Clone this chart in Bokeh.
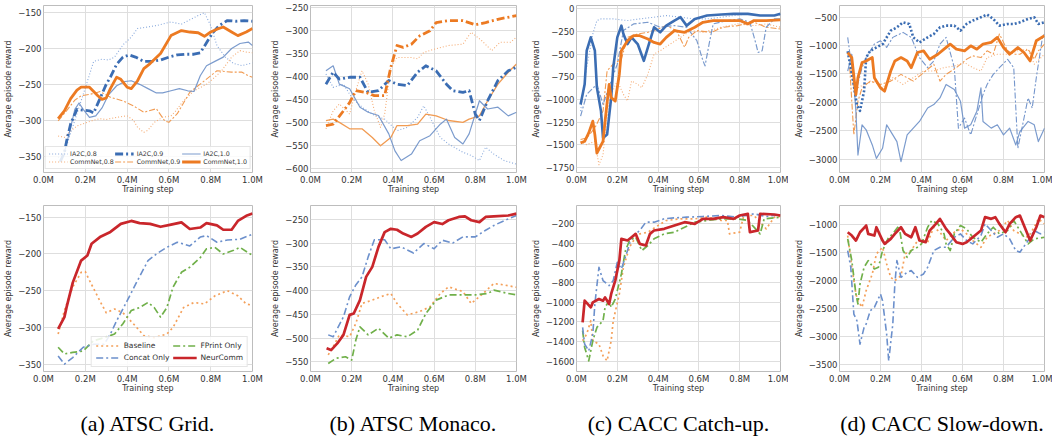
from bokeh.plotting import figure
from bokeh.models import Range1d, PrintfTickFormatter, Legend, LegendItem
from bokeh.layouts import row, column
from bokeh.embed import file_html
from bokeh.resources import INLINE
from bokeh.core.properties import value

# ---------------- data ----------------
x_ticks = [0.0, 0.2, 0.4, 0.6, 0.8, 1.0]
captions = ["(a) ATSC Grid.", "(b) ATSC Monaco.", "(c) CACC Catch-up.", "(d) CACC Slow-down."]
top_labels = ["IA2C,0.8", "IA2C,0.9", "IA2C,1.0", "CommNet,0.8", "CommNet,0.9", "CommNet,1.0"]
bottom_labels = ["Baseline", "Concat Only", "FPrint Only", "NeurComm"]

grid_top_ticks = [-350, -300, -250, -200, -150]
grid_bottom_ticks = [-350, -300, -250, -200, -150]
monaco_top_ticks = [-600, -550, -500, -450, -400, -350, -300, -250]
monaco_bottom_ticks = [-550, -500, -450, -400, -350, -300, -250]
catchup_top_ticks = [-1750, -1500, -1250, -1000, -750, -500, -250, 0]
catchup_bottom_ticks = [-1600, -1400, -1200, -1000, -800, -600, -400, -200]
slowdown_top_ticks = [-3000, -2500, -2000, -1500, -1000, -500]
slowdown_bottom_ticks = [-3500, -3000, -2500, -2000, -1500, -1000]

# (a) ATSC Grid, top row (training step in M, reward)
grid_ia2c_08 = [(0.07, -352), (0.10, -345), (0.13, -318), (0.17, -282), (0.20, -255), (0.24, -218), (0.28, -215), (0.31, -216), (0.34, -212), (0.38, -195), (0.42, -184), (0.45, -172), (0.50, -170), (0.54, -168), (0.58, -165), (0.61, -163), (0.66, -166), (0.70, -160), (0.74, -154), (0.77, -150), (0.80, -168), (0.83, -196), (0.87, -212), (0.91, -221), (0.95, -224), (1.0, -220)]
grid_ia2c_09 = [(0.08, -358), (0.10, -345), (0.11, -330), (0.13, -305), (0.16, -285), (0.19, -286), (0.22, -287), (0.24, -290), (0.27, -270), (0.30, -250), (0.32, -240), (0.35, -222), (0.38, -212), (0.41, -209), (0.44, -212), (0.48, -218), (0.52, -218), (0.56, -216), (0.60, -212), (0.64, -209), (0.68, -208), (0.72, -208), (0.75, -206), (0.78, -192), (0.81, -178), (0.84, -168), (0.88, -161), (0.92, -162), (0.96, -161), (1.0, -162)]
grid_ia2c_10 = [(0.10, -345), (0.13, -310), (0.15, -285), (0.17, -276), (0.19, -285), (0.22, -296), (0.25, -294), (0.28, -283), (0.31, -265), (0.35, -252), (0.39, -246), (0.42, -245), (0.46, -250), (0.50, -256), (0.54, -262), (0.57, -262), (0.61, -259), (0.65, -256), (0.69, -259), (0.72, -260), (0.75, -238), (0.78, -224), (0.82, -218), (0.86, -212), (0.90, -200), (0.94, -193), (0.98, -191), (1.0, -196)]
grid_commnet_08 = [(0.07, -322), (0.10, -324), (0.13, -315), (0.16, -308), (0.20, -304), (0.24, -300), (0.27, -298), (0.30, -299), (0.35, -296), (0.40, -294), (0.43, -300), (0.45, -310), (0.48, -317), (0.50, -314), (0.53, -303), (0.57, -296), (0.61, -294), (0.63, -288), (0.67, -273), (0.72, -259), (0.78, -250), (0.82, -240), (0.85, -232), (0.90, -212), (0.94, -203), (0.97, -205), (1.0, -206)]
grid_commnet_09 = [(0.07, -301), (0.11, -287), (0.15, -272), (0.18, -266), (0.22, -264), (0.25, -262), (0.27, -260), (0.32, -268), (0.38, -273), (0.43, -280), (0.48, -289), (0.54, -284), (0.58, -301), (0.60, -303), (0.64, -291), (0.70, -261), (0.77, -245), (0.83, -231), (0.90, -233), (0.95, -233), (0.98, -238), (1.0, -240)]
grid_commnet_10 = [(0.07, -298), (0.10, -287), (0.13, -270), (0.16, -258), (0.18, -254), (0.22, -254), (0.26, -266), (0.28, -271), (0.30, -269), (0.32, -256), (0.35, -240), (0.37, -243), (0.40, -254), (0.42, -256), (0.45, -245), (0.48, -228), (0.51, -221), (0.56, -207), (0.61, -182), (0.66, -175), (0.70, -177), (0.74, -178), (0.77, -183), (0.80, -177), (0.83, -173), (0.86, -170), (0.90, -177), (0.93, -182), (0.97, -177), (1.0, -172)]

# (a) ATSC Grid, bottom row
grid_baseline = [(0.07, -309), (0.10, -277), (0.14, -245), (0.18, -225), (0.20, -224), (0.22, -236), (0.27, -264), (0.30, -280), (0.34, -275), (0.38, -280), (0.43, -295), (0.48, -311), (0.53, -314), (0.59, -309), (0.62, -300), (0.67, -273), (0.72, -266), (0.77, -268), (0.82, -257), (0.88, -250), (0.93, -257), (0.97, -268), (1.0, -270)]
grid_concat = [(0.07, -339), (0.10, -350), (0.14, -341), (0.19, -327), (0.24, -323), (0.29, -323), (0.32, -309), (0.35, -291), (0.40, -264), (0.45, -236), (0.50, -209), (0.54, -200), (0.59, -191), (0.64, -184), (0.70, -189), (0.75, -177), (0.78, -175), (0.83, -184), (0.88, -181), (0.94, -180), (1.0, -173)]
grid_fprint = [(0.07, -327), (0.10, -336), (0.14, -334), (0.19, -332), (0.24, -318), (0.29, -314), (0.34, -309), (0.38, -295), (0.42, -277), (0.46, -273), (0.50, -266), (0.53, -273), (0.56, -286), (0.59, -273), (0.62, -245), (0.66, -225), (0.70, -218), (0.75, -205), (0.78, -193), (0.82, -191), (0.86, -200), (0.91, -195), (0.94, -191), (1.0, -202)]
grid_neurcomm = [(0.07, -302), (0.10, -286), (0.11, -273), (0.14, -239), (0.18, -209), (0.21, -202), (0.23, -186), (0.27, -177), (0.32, -170), (0.37, -159), (0.42, -155), (0.46, -158), (0.51, -159), (0.56, -163), (0.61, -160), (0.66, -157), (0.70, -166), (0.75, -164), (0.78, -158), (0.83, -161), (0.86, -167), (0.90, -167), (0.93, -155), (0.97, -148), (1.0, -145)]

# (b) ATSC Monaco, top row
monaco_ia2c_08 = [(0.075, -395), (0.11, -424), (0.16, -417), (0.20, -446), (0.25, -467), (0.31, -485), (0.36, -493), (0.42, -518), (0.47, -511), (0.52, -489), (0.55, -464), (0.58, -489), (0.63, -533), (0.67, -547), (0.74, -565), (0.78, -572), (0.82, -583), (0.85, -554), (0.89, -569), (0.94, -583), (1.0, -591)]
monaco_ia2c_09 = [(0.075, -417), (0.11, -391), (0.14, -406), (0.19, -402), (0.24, -402), (0.28, -435), (0.33, -431), (0.38, -409), (0.42, -417), (0.47, -420), (0.52, -391), (0.56, -377), (0.61, -388), (0.66, -417), (0.69, -431), (0.74, -435), (0.77, -431), (0.80, -482), (0.82, -496), (0.86, -453), (0.91, -409), (0.96, -388), (1.0, -380)]
monaco_ia2c_10 = [(0.075, -388), (0.11, -377), (0.14, -417), (0.19, -427), (0.24, -467), (0.28, -478), (0.33, -485), (0.38, -525), (0.41, -562), (0.44, -583), (0.49, -569), (0.53, -540), (0.58, -529), (0.63, -504), (0.66, -493), (0.70, -533), (0.74, -547), (0.77, -525), (0.82, -453), (0.86, -471), (0.91, -467), (0.96, -486), (1.0, -478)]
monaco_commnet_08 = [(0.075, -514), (0.11, -475), (0.14, -460), (0.19, -482), (0.22, -431), (0.25, -388), (0.28, -417), (0.31, -475), (0.34, -511), (0.36, -482), (0.39, -380), (0.42, -359), (0.49, -359), (0.52, -362), (0.55, -348), (0.60, -341), (0.67, -333), (0.74, -330), (0.78, -304), (0.83, -322), (0.88, -344), (0.92, -326), (0.97, -326), (1.0, -315)]
monaco_commnet_09 = [(0.075, -496), (0.11, -493), (0.14, -500), (0.19, -514), (0.25, -514), (0.30, -533), (0.34, -551), (0.39, -533), (0.42, -507), (0.47, -507), (0.52, -504), (0.56, -482), (0.61, -486), (0.67, -496), (0.74, -500), (0.77, -493), (0.82, -486), (0.86, -453), (0.91, -417), (0.96, -391), (1.0, -373)]
monaco_commnet_10 = [(0.075, -507), (0.11, -504), (0.16, -475), (0.19, -457), (0.22, -431), (0.27, -435), (0.31, -442), (0.36, -442), (0.39, -380), (0.42, -333), (0.45, -337), (0.49, -330), (0.53, -312), (0.58, -301), (0.61, -283), (0.67, -279), (0.74, -279), (0.80, -288), (0.85, -283), (0.92, -275), (1.0, -268)]

# (b) ATSC Monaco, bottom row
monaco_baseline = [(0.086, -535), (0.11, -518), (0.14, -493), (0.19, -497), (0.22, -469), (0.25, -427), (0.30, -420), (0.34, -413), (0.39, -406), (0.42, -427), (0.47, -451), (0.53, -444), (0.58, -434), (0.63, -406), (0.67, -392), (0.74, -402), (0.78, -427), (0.83, -409), (0.89, -385), (0.94, -388), (1.0, -393)]
monaco_concat = [(0.086, -493), (0.11, -497), (0.16, -455), (0.19, -413), (0.22, -388), (0.25, -371), (0.28, -329), (0.31, -293), (0.36, -293), (0.39, -312), (0.44, -308), (0.50, -321), (0.55, -301), (0.60, -312), (0.64, -294), (0.69, -300), (0.74, -287), (0.80, -287), (0.85, -273), (0.89, -263), (0.96, -249), (1.0, -242)]
monaco_fprint = [(0.086, -553), (0.125, -542), (0.17, -539), (0.20, -546), (0.22, -504), (0.24, -476), (0.28, -493), (0.33, -479), (0.38, -500), (0.42, -493), (0.47, -497), (0.52, -483), (0.56, -448), (0.61, -420), (0.67, -409), (0.74, -409), (0.80, -409), (0.86, -406), (0.89, -399), (0.96, -406), (1.0, -409)]
monaco_neurcomm = [(0.078, -521), (0.10, -525), (0.13, -511), (0.16, -493), (0.19, -451), (0.21, -448), (0.24, -420), (0.27, -371), (0.30, -350), (0.33, -308), (0.36, -277), (0.39, -270), (0.42, -272), (0.45, -280), (0.49, -287), (0.52, -280), (0.56, -266), (0.60, -256), (0.64, -260), (0.67, -252), (0.72, -245), (0.75, -244), (0.78, -252), (0.82, -256), (0.85, -245), (0.89, -244), (0.96, -242), (1.0, -238)]

# (c) CACC Catch-up, top row
catchup_ia2c_08 = [(0.02, -1128), (0.05, -647), (0.08, -277), (0.10, -129), (0.12, -111), (0.18, -111), (0.25, -129), (0.31, -111), (0.38, -92), (0.44, -74), (0.51, -92), (0.58, -111), (0.64, -111), (0.71, -92), (0.77, -74), (0.84, -55), (0.90, -74), (1.0, -74)]
catchup_ia2c_09 = [(0.02, -1054), (0.04, -832), (0.05, -462), (0.07, -314), (0.09, -462), (0.10, -869), (0.12, -1128), (0.13, -1424), (0.15, -1387), (0.17, -980), (0.18, -647), (0.20, -314), (0.22, -185), (0.23, -277), (0.25, -388), (0.27, -314), (0.30, -388), (0.33, -573), (0.35, -425), (0.38, -203), (0.41, -259), (0.44, -185), (0.48, -129), (0.51, -92), (0.54, -185), (0.58, -111), (0.64, -74), (0.71, -63), (0.77, -55), (0.84, -55), (0.90, -74), (0.97, -74), (1.0, -55)]
catchup_ia2c_10 = [(0.02, -1183), (0.05, -943), (0.10, -832), (0.13, -1054), (0.17, -795), (0.20, -610), (0.23, -240), (0.28, -166), (0.35, -148), (0.41, -203), (0.48, -185), (0.54, -203), (0.59, -351), (0.62, -573), (0.63, -629), (0.65, -388), (0.67, -166), (0.74, -129), (0.80, -111), (0.85, -148), (0.88, -388), (0.89, -481), (0.91, -462), (0.93, -203), (0.97, -111), (1.0, -111)]
catchup_commnet_08 = [(0.02, -1461), (0.05, -1498), (0.09, -1461), (0.11, -1720), (0.13, -1609), (0.14, -1387), (0.16, -1017), (0.17, -943), (0.20, -795), (0.23, -943), (0.25, -1017), (0.27, -795), (0.30, -832), (0.32, -869), (0.35, -721), (0.38, -499), (0.41, -462), (0.46, -388), (0.51, -314), (0.56, -240), (0.62, -259), (0.71, -203), (0.79, -166), (0.87, -185), (0.93, -166), (1.0, -203)]
catchup_commnet_09 = [(0.02, -1442), (0.05, -1424), (0.09, -1313), (0.13, -1128), (0.15, -684), (0.18, -610), (0.22, -555), (0.25, -314), (0.30, -277), (0.35, -259), (0.40, -222), (0.44, -185), (0.49, -240), (0.53, -425), (0.55, -314), (0.59, -240), (0.66, -259), (0.72, -203), (0.79, -185), (0.87, -148), (0.93, -203), (1.0, -222)]
catchup_commnet_10 = [(0.02, -1479), (0.04, -1461), (0.06, -1368), (0.08, -1239), (0.09, -1387), (0.10, -1590), (0.13, -1461), (0.14, -1239), (0.16, -832), (0.17, -980), (0.19, -1017), (0.21, -721), (0.22, -462), (0.25, -351), (0.28, -296), (0.31, -296), (0.35, -333), (0.38, -370), (0.41, -388), (0.44, -314), (0.48, -240), (0.53, -259), (0.58, -203), (0.62, -148), (0.67, -129), (0.74, -129), (0.80, -129), (0.84, -166), (0.87, -129), (0.93, -129), (1.0, -122)]

# (c) CACC Catch-up, bottom row
catchup_baseline = [(0.03, -1392), (0.05, -1324), (0.07, -1188), (0.08, -1392), (0.11, -1427), (0.13, -1546), (0.15, -1597), (0.17, -1392), (0.18, -1188), (0.21, -915), (0.23, -643), (0.26, -438), (0.28, -370), (0.31, -302), (0.35, -285), (0.40, -217), (0.44, -166), (0.51, -149), (0.58, -149), (0.64, -132), (0.71, -166), (0.74, -166), (0.75, -302), (0.80, -285), (0.82, -115), (0.87, -115), (0.93, -251), (0.97, -132), (1.0, -125)]
catchup_concat = [(0.03, -1256), (0.04, -1427), (0.06, -1495), (0.08, -1324), (0.09, -1018), (0.11, -643), (0.13, -779), (0.16, -830), (0.18, -779), (0.20, -592), (0.22, -660), (0.25, -473), (0.27, -336), (0.31, -268), (0.34, -183), (0.38, -183), (0.43, -149), (0.48, -139), (0.54, -132), (0.62, -125), (0.71, -115), (0.79, -132), (0.87, -98), (0.93, -125), (1.0, -105)]
catchup_fprint = [(0.03, -1290), (0.04, -1461), (0.06, -1597), (0.08, -1392), (0.10, -1256), (0.13, -1188), (0.14, -1052), (0.16, -984), (0.17, -1052), (0.19, -967), (0.22, -711), (0.24, -473), (0.26, -370), (0.29, -336), (0.32, -473), (0.35, -421), (0.38, -353), (0.43, -302), (0.48, -285), (0.53, -234), (0.58, -183), (0.64, -166), (0.71, -149), (0.79, -149), (0.84, -166), (0.87, -234), (0.90, -302), (0.92, -149), (1.0, -132)]
catchup_neurcomm = [(0.03, -1205), (0.04, -984), (0.07, -1052), (0.08, -1001), (0.11, -967), (0.13, -984), (0.14, -950), (0.16, -1018), (0.17, -915), (0.19, -779), (0.21, -575), (0.22, -353), (0.25, -370), (0.27, -336), (0.29, -302), (0.31, -404), (0.34, -421), (0.36, -302), (0.38, -268), (0.43, -251), (0.48, -217), (0.53, -183), (0.58, -200), (0.62, -149), (0.67, -149), (0.72, -132), (0.77, -149), (0.80, -115), (0.84, -98), (0.85, -285), (0.89, -268), (0.90, -98), (0.97, -105), (1.0, -115)]

# (d) CACC Slow-down, top row
slowdown_ia2c_08 = [(0.04, -855), (0.06, -1389), (0.08, -1803), (0.11, -1389), (0.13, -1211), (0.17, -974), (0.20, -915), (0.23, -1033), (0.26, -855), (0.31, -767), (0.35, -855), (0.39, -1211), (0.43, -1389), (0.46, -1270), (0.49, -974), (0.52, -855), (0.56, -1389), (0.58, -2455), (0.61, -2277), (0.64, -2574), (0.67, -2218), (0.70, -1863), (0.72, -1685), (0.75, -1507), (0.78, -1389), (0.82, -1241), (0.85, -1389), (0.87, -2810), (0.89, -2455), (0.92, -1922), (0.94, -2100), (0.96, -1566), (0.99, -855), (1.0, -796)]
slowdown_ia2c_09 = [(0.04, -1100), (0.05, -1300), (0.07, -1700), (0.085, -2050), (0.10, -2150), (0.12, -1800), (0.13, -1211), (0.15, -1092), (0.18, -1033), (0.21, -974), (0.25, -737), (0.28, -678), (0.31, -589), (0.34, -618), (0.36, -855), (0.39, -944), (0.43, -855), (0.46, -796), (0.49, -678), (0.52, -648), (0.56, -648), (0.59, -737), (0.62, -618), (0.65, -559), (0.69, -500), (0.72, -453), (0.75, -530), (0.78, -648), (0.82, -618), (0.85, -618), (0.88, -589), (0.92, -530), (0.95, -500), (0.97, -618), (1.0, -589)]
slowdown_ia2c_10 = [(0.04, -1450), (0.06, -1152), (0.08, -2159), (0.09, -2929), (0.11, -2396), (0.13, -2485), (0.16, -2751), (0.18, -2988), (0.21, -2810), (0.23, -2396), (0.26, -2574), (0.28, -2692), (0.30, -3047), (0.33, -2574), (0.36, -2455), (0.39, -2337), (0.43, -2100), (0.46, -2040), (0.49, -1922), (0.52, -1685), (0.56, -1774), (0.59, -1981), (0.61, -2455), (0.64, -2396), (0.67, -2159), (0.69, -1744), (0.70, -2337), (0.74, -2455), (0.77, -2396), (0.80, -2574), (0.83, -2455), (0.86, -2751), (0.88, -2515), (0.92, -2337), (0.95, -2396), (0.97, -2692), (1.0, -2455)]
slowdown_commnet_08 = [(0.05, -1270), (0.07, -1803), (0.09, -1744), (0.12, -1685), (0.17, -1626), (0.21, -1744), (0.26, -1566), (0.31, -1685), (0.36, -1566), (0.41, -1448), (0.46, -1448), (0.51, -1389), (0.56, -1359), (0.61, -1300), (0.65, -1389), (0.69, -1448), (0.72, -1211), (0.77, -1152), (0.82, -1152), (0.87, -1092), (0.92, -1063), (0.95, -1329), (1.0, -1152)]
slowdown_commnet_09 = [(0.05, -1389), (0.07, -2574), (0.09, -1981), (0.11, -1744), (0.15, -1626), (0.20, -1685), (0.25, -1626), (0.30, -1507), (0.33, -1566), (0.36, -1626), (0.41, -1477), (0.46, -1329), (0.49, -1626), (0.52, -1507), (0.57, -1389), (0.62, -1241), (0.65, -1181), (0.69, -1211), (0.72, -1092), (0.75, -1152), (0.78, -796), (0.82, -1092), (0.85, -1152), (0.88, -1152), (0.92, -1063), (0.95, -1241), (0.97, -1092), (1.0, -974)]
slowdown_commnet_10 = [(0.04, -1122), (0.06, -1211), (0.08, -1863), (0.09, -1566), (0.11, -1300), (0.13, -1270), (0.16, -1211), (0.17, -1566), (0.20, -1744), (0.22, -1803), (0.25, -1448), (0.27, -1270), (0.30, -1211), (0.33, -1270), (0.35, -1389), (0.38, -1122), (0.41, -1092), (0.44, -1241), (0.48, -1152), (0.51, -1063), (0.54, -974), (0.57, -1063), (0.61, -1092), (0.64, -1004), (0.67, -1063), (0.70, -974), (0.74, -944), (0.77, -855), (0.80, -1033), (0.83, -1152), (0.87, -1033), (0.90, -1122), (0.93, -1270), (0.96, -915), (1.0, -826)]

# (d) CACC Slow-down, bottom row
slowdown_baseline = [(0.04, -1197), (0.06, -1766), (0.08, -2244), (0.09, -2364), (0.11, -2483), (0.13, -2184), (0.16, -1885), (0.18, -1526), (0.21, -1407), (0.23, -1706), (0.25, -1945), (0.27, -2005), (0.30, -1915), (0.32, -1526), (0.35, -1466), (0.37, -1347), (0.39, -1257), (0.43, -1317), (0.46, -1048), (0.49, -1138), (0.52, -1287), (0.56, -1138), (0.59, -1078), (0.62, -1167), (0.65, -1287), (0.69, -1407), (0.72, -1227), (0.75, -1167), (0.78, -1108), (0.82, -928), (0.85, -1108), (0.88, -1167), (0.92, -1227), (0.95, -1048), (0.97, -898), (1.0, -988)]
slowdown_concat = [(0.04, -1466), (0.055, -1766), (0.07, -2603), (0.085, -2723), (0.10, -3141), (0.12, -2842), (0.13, -2782), (0.15, -2543), (0.17, -2483), (0.20, -2244), (0.21, -2364), (0.23, -2962), (0.24, -3440), (0.26, -2782), (0.27, -2065), (0.28, -1646), (0.30, -1945), (0.33, -1855), (0.35, -1825), (0.38, -1945), (0.41, -1885), (0.43, -1766), (0.46, -1466), (0.49, -1407), (0.52, -1407), (0.56, -1227), (0.59, -1167), (0.62, -1287), (0.65, -1347), (0.69, -1197), (0.71, -988), (0.74, -1108), (0.77, -1227), (0.80, -1167), (0.83, -1257), (0.86, -1466), (0.88, -1496), (0.92, -1287), (0.95, -1108), (0.98, -1167), (1.0, -1138)]
slowdown_fprint = [(0.04, -1257), (0.06, -1646), (0.08, -2244), (0.09, -2423), (0.10, -2065), (0.12, -1766), (0.14, -1646), (0.17, -1795), (0.19, -1766), (0.21, -1466), (0.24, -1227), (0.26, -1167), (0.29, -1018), (0.31, -1466), (0.33, -1586), (0.35, -1466), (0.38, -1407), (0.40, -1347), (0.43, -1048), (0.45, -928), (0.48, -988), (0.51, -1167), (0.52, -1347), (0.54, -1466), (0.56, -1167), (0.59, -1018), (0.62, -1078), (0.65, -1227), (0.69, -1317), (0.72, -1167), (0.75, -1048), (0.78, -1167), (0.82, -1108), (0.85, -928), (0.88, -1108), (0.92, -1347), (0.95, -1257), (1.0, -1227)]
slowdown_neurcomm = [(0.04, -1138), (0.06, -1197), (0.08, -1287), (0.10, -1138), (0.13, -1018), (0.14, -1167), (0.17, -1197), (0.18, -1048), (0.21, -1287), (0.22, -1347), (0.25, -1257), (0.27, -1167), (0.30, -1048), (0.32, -1167), (0.35, -1227), (0.37, -1048), (0.39, -1287), (0.42, -1317), (0.44, -1108), (0.47, -988), (0.49, -898), (0.52, -1078), (0.54, -1167), (0.57, -1317), (0.60, -1347), (0.62, -1317), (0.65, -1227), (0.69, -1108), (0.71, -868), (0.74, -898), (0.76, -868), (0.78, -988), (0.81, -1138), (0.83, -988), (0.86, -868), (0.88, -839), (0.91, -1108), (0.93, -1287), (0.96, -1048), (0.98, -839), (1.0, -868)]

# ---------------- styling ----------------
DOTTED, DASHDOT = "1 2", "6 2 2 2"
TOP_STYLES = [  # same order as top_labels
    dict(color="#88a9dc", width=1.1, dash=DOTTED, alpha=1.0),
    dict(color="#3b6db3", width=2.8, dash="8 3 2 3", alpha=1.0),
    dict(color="#6d90c8", width=1.2, dash="solid", alpha=0.9),
    dict(color="#f5ad76", width=1.1, dash=DOTTED, alpha=1.0),
    dict(color="#f19b52", width=1.1, dash=DASHDOT, alpha=1.0),
    dict(color="#ec7a22", width=2.8, dash="solid", alpha=1.0),
]
# per-panel deviations in the reference's line styles: (panel, series) -> changes
TOP_OVERRIDES = {
    (1, 5): dict(dash="8 3 2 3"),
    (1, 4): dict(dash="solid", width=1.3),
    (2, 1): dict(dash="solid", width=2.6),
    (2, 2): dict(dash=DASHDOT),
    (3, 1): dict(dash="2 2", width=2.6),
    (3, 0): dict(dash=DASHDOT, color="#7596cc"),
}
TOP_DRAW_ORDER = [0, 3, 4, 2, 1, 5]
BOTTOM_STYLES = [  # same order as bottom_labels
    dict(color="#f4a05a", width=1.7, dash="2 3", alpha=1.0),
    dict(color="#6c90cc", width=1.6, dash="7 3 2 3", alpha=1.0),
    dict(color="#70b04a", width=1.7, dash="7 3 2 3", alpha=1.0),
    dict(color="#c9262b", width=2.7, dash="solid", alpha=1.0),
]
BOTTOM_DRAW_ORDER = [0, 2, 1, 3]

TEXT_COLOR = "#333333"
FONT = "DejaVu Sans"

# the page template has no body margin: columns tile the full 1052 px
COL_WIDTHS = [268, 260, 260, 264]
BORDER_LEFT = [43, 35, 48, 51]
BORDER_RIGHT = [16, 12, 8, 8]
XAXIS_BORDER = 30
TOP_H, BOTTOM_H, CAP_H = 202, 199, 36


def minus_labels(ticks):
    return {t: ("\u2212" + str(abs(t))) if t < 0 else str(t) for t in ticks}


def panel(series, styles, order, yr, yticks, ci, height, btop, overrides=None):
    p = figure(width=COL_WIDTHS[ci], height=height, output_backend="svg", toolbar_location=None,
               x_range=Range1d(0.0, 1.0), y_range=Range1d(*yr),
               min_border_left=BORDER_LEFT[ci], min_border_right=BORDER_RIGHT[ci],
               min_border_top=btop, min_border_bottom=XAXIS_BORDER)
    p.outline_line_color = "#bdbdbd"
    p.outline_line_width = 1
    p.background_fill_color = "white"
    p.xaxis.ticker = x_ticks
    p.xaxis.formatter = PrintfTickFormatter(format="%.1fM")
    p.yaxis.ticker = yticks
    p.yaxis.major_label_overrides = minus_labels(yticks)
    p.xaxis.axis_label = "Training step"
    p.yaxis.axis_label = "Average episode reward"
    for ax in (p.xaxis[0], p.yaxis[0]):
        ax.axis_line_color = None
        ax.major_tick_line_color = None
        ax.minor_tick_line_color = None
        ax.major_tick_out = 0
        ax.major_tick_in = 0
        ax.major_label_text_font = FONT
        ax.major_label_text_font_size = "8.5px"
        ax.major_label_text_color = TEXT_COLOR
        ax.axis_label_text_font = FONT
        ax.axis_label_text_font_size = "8px"
        ax.axis_label_text_font_style = "normal"
        ax.axis_label_text_color = TEXT_COLOR
    p.xaxis.major_label_standoff = 2
    p.xaxis.axis_label_standoff = -3
    p.yaxis.major_label_standoff = 2
    p.yaxis.axis_label_standoff = 2
    p.xgrid.grid_line_color = "#dedede"
    p.ygrid.grid_line_color = "#dedede"
    p.xgrid.grid_line_width = 1
    p.ygrid.grid_line_width = 1
    rends = {}
    for i in order:
        pts = series[i]
        st = dict(styles[i])
        if overrides:
            st.update(overrides.get((ci, i), {}))
        rends[i] = p.line([q[0] for q in pts], [q[1] for q in pts], line_color=st["color"],
                          line_width=st["width"], line_dash=st["dash"], line_alpha=st["alpha"],
                          line_join="round")
    return p, rends


def caption_fig(ci):
    c = figure(width=COL_WIDTHS[ci], height=CAP_H, output_backend="svg", toolbar_location=None,
               x_range=Range1d(0, 1), y_range=Range1d(0, 1), x_axis_type=None, y_axis_type=None,
               min_border=0)
    c.outline_line_color = None
    c.grid.visible = False
    c.text(x=[0.5], y=[0.4], text=[captions[ci]], text_font=value("Liberation Serif"),
           text_font_size="22px", text_align="center", text_baseline="middle", text_color="black")
    return c


panels = [
    ([grid_ia2c_08, grid_ia2c_09, grid_ia2c_10, grid_commnet_08, grid_commnet_09, grid_commnet_10],
     (-373, -140), grid_top_ticks,
     [grid_baseline, grid_concat, grid_fprint, grid_neurcomm], (-360, -134), grid_bottom_ticks),
    ([monaco_ia2c_08, monaco_ia2c_09, monaco_ia2c_10, monaco_commnet_08, monaco_commnet_09, monaco_commnet_10],
     (-609, -246), monaco_top_ticks,
     [monaco_baseline, monaco_concat, monaco_fprint, monaco_neurcomm], (-570, -221), monaco_bottom_ticks),
    ([catchup_ia2c_08, catchup_ia2c_09, catchup_ia2c_10, catchup_commnet_08, catchup_commnet_09, catchup_commnet_10],
     (-1805, 37), catchup_top_ticks,
     [catchup_baseline, catchup_concat, catchup_fprint, catchup_neurcomm], (-1706, -13), catchup_bottom_ticks),
    ([slowdown_ia2c_08, slowdown_ia2c_09, slowdown_ia2c_10, slowdown_commnet_08, slowdown_commnet_09, slowdown_commnet_10],
     (-3237, -293), slowdown_top_ticks,
     [slowdown_baseline, slowdown_concat, slowdown_fprint, slowdown_neurcomm], (-3632, -659), slowdown_bottom_ticks),
]

cols = []
for ci, (tser, tyr, tyt, bser, byr, byt) in enumerate(panels):
    pt, rt = panel(tser, TOP_STYLES, TOP_DRAW_ORDER, tyr, tyt, ci, TOP_H, 5, TOP_OVERRIDES)
    pb, rb = panel(bser, BOTTOM_STYLES, BOTTOM_DRAW_ORDER, byr, byt, ci, BOTTOM_H, 3)
    if ci == 0:
        # Bokeh fills legend columns first; this order gives rows IA2C / CommNet
        lt = Legend(items=[LegendItem(label=top_labels[i], renderers=[rt[i]]) for i in (0, 3, 1, 4, 2, 5)],
                    ncols=3, location="bottom_center", label_text_font=FONT,
                    label_text_font_size="6.3px", label_text_color=TEXT_COLOR,
                    glyph_width=19, glyph_height=7, label_height=7, label_standoff=3,
                    spacing=1, padding=3, margin=3, border_line_color="#cccccc",
                    background_fill_alpha=0.85)
        pt.add_layout(lt)
        lb = Legend(items=[LegendItem(label=bottom_labels[i], renderers=[rb[i]]) for i in (0, 1, 2, 3)],
                    ncols=2, location="bottom_right", label_text_font=FONT,
                    label_text_font_size="7.5px", label_text_color=TEXT_COLOR,
                    glyph_width=24, glyph_height=9, label_height=9, label_standoff=4,
                    spacing=3, padding=4, margin=4, border_line_color="#cccccc",
                    background_fill_alpha=0.85)
        pb.add_layout(lb)
    cols.append(column(pt, pb, caption_fig(ci)))

layout = row(*cols)
open("out.html", "w").write(file_html(layout, INLINE))
